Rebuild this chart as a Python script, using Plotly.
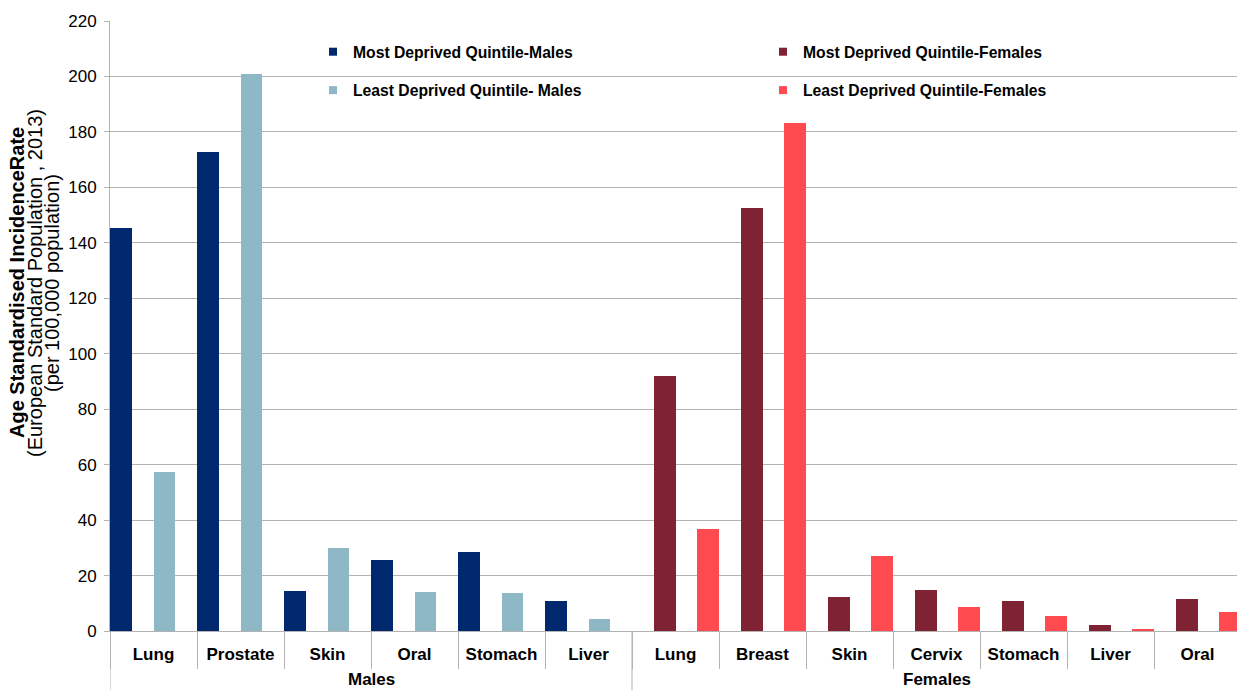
import plotly.graph_objects as go

# Cancer incidence by deprivation quintile, grouped by sex and cancer site
sex = ["Males"] * 6 + ["Females"] * 7
sites = ["Lung", "Prostate", "Skin", "Oral", "Stomach", "Liver",
         "Lung", "Breast", "Skin", "Cervix", "Stomach", "Liver", "Oral"]

most_deprived_males = [145.2, 172.8, 14.4, 25.6, 28.4, 10.7] + [None] * 7
least_deprived_males = [57.3, 200.9, 30.1, 14.0, 13.8, 4.2] + [None] * 7
most_deprived_females = [None] * 6 + [92.0, 152.4, 12.1, 14.8, 10.7, 2.1, 11.6]
least_deprived_females = [None] * 6 + [36.7, 183.3, 27.1, 8.5, 5.4, 0.7, 7.0]

y_ticks = list(range(0, 221, 20))

NAVY = "#00286f"
LIGHT_BLUE = "#8fb8c7"
MAROON = "#7f2334"
CORAL = "#ff4a4f"
GRID = "#b3b3b3"
FONT = "Liberation Sans, Arial, sans-serif"

# one slot per site along the x axis; sites repeat between the two sex groups
pos = list(range(len(sites)))
boundaries = [p - 0.5 for p in pos] + [pos[-1] + 0.5]
groups = []
for i, s in enumerate(sex):
    if not groups or groups[-1][0] != s:
        groups.append([s, i, i])
    else:
        groups[-1][2] = i

fig = go.Figure()

# slot order inside each site: most M, most F, least M, least F
series = [
    ("Most Deprived Quintile-Males", most_deprived_males, NAVY, "legend"),
    ("Most Deprived Quintile-Females", most_deprived_females, MAROON, "legend2"),
    ("Least Deprived Quintile- Males", least_deprived_males, LIGHT_BLUE, "legend"),
    ("Least Deprived Quintile-Females", least_deprived_females, CORAL, "legend2"),
]
for name, vals, color, _ in series:
    fig.add_trace(go.Bar(x=pos, y=vals, name=name, marker=dict(color=color, line=dict(width=0)),
                         showlegend=False))

# small square legend keys
legend_order = [series[0], series[2], series[1], series[3]]
for name, _, color, leg in legend_order:
    fig.add_trace(go.Scatter(x=[pos[0]], y=[None], mode="markers", name=name,
                             marker=dict(symbol="square", size=8, color=color),
                             legend=leg, legendgroup=name, showlegend=True, hoverinfo="skip"))

legend_style = dict(
    bgcolor="rgba(0,0,0,0)", borderwidth=0,
    font=dict(family=FONT, size=15.7, color="black", weight="bold"),
    tracegroupgap=15, orientation="v", xanchor="left", yanchor="top",
)

fig.update_layout(
    template="none",
    width=1237, height=690,
    margin=dict(l=110, r=0, t=21, b=59, pad=0),
    plot_bgcolor="white", paper_bgcolor="white",
    barmode="group", bargap=0, bargroupgap=0,
    font=dict(family=FONT, color="black"),
    legend=dict(x=(313 - 110) / 1127, y=1 - (35 - 21) / 610, **legend_style),
    legend2=dict(x=(763 - 110) / 1127, y=1 - (35 - 21) / 610, **legend_style),
    xaxis=dict(
        range=[-0.5, 12.454],
        tickmode="array", tickvals=pos, ticktext=sites,
        ticks="", ticklabelstandoff=8,
        tickfont=dict(family=FONT, size=17, color="black", weight="bold"),
        minor=dict(tickmode="array", tickvals=boundaries, ticks="outside",
                   ticklen=37, tickcolor=GRID, tickwidth=1, showgrid=False),
        showline=True, linecolor=GRID, linewidth=1,
        showgrid=False, zeroline=False, automargin=False,
    ),
    yaxis=dict(
        range=[0, 220], tickmode="array", tickvals=y_ticks,
        showgrid=True, gridcolor=GRID, gridwidth=1,
        showline=True, linecolor=GRID, linewidth=1,
        ticks="outside", ticklen=5, tickcolor=GRID, ticklabelstandoff=4,
        tickfont=dict(family=FONT, size=17, color="black"),
        zeroline=False, automargin=False,
    ),
)

# sex group labels and the dividers that frame each group
for name, first, last in groups:
    fig.add_annotation(
        text=f"<b>{name}</b>", xref="x", yref="paper", x=(first + last) / 2,
        y=(631 - 680) / 610, showarrow=False, xanchor="center", yanchor="middle",
        font=dict(family=FONT, size=17, color="black"),
    )
    fig.add_shape(type="line", xref="x", yref="paper", x0=first - 0.5, x1=first - 0.5,
                  y0=0, y1=-59 / 610, line=dict(color=GRID, width=1))

# three-line y-axis title
title_lines = [
    ("<b>Age Standardised IncidenceRate</b>", -93),
    ("(European Standard Population , 2013)", -75),
    ("(per 100,000 population)", -58),
]
for text, dx in title_lines:
    fig.add_annotation(
        text=text, xref="paper", yref="paper", x=0, y=(631 - 283) / 610,
        xshift=dx, textangle=-90, showarrow=False,
        xanchor="center", yanchor="middle",
        font=dict(family=FONT, size=20, color="black"),
    )

fig.write_html("out.html")
